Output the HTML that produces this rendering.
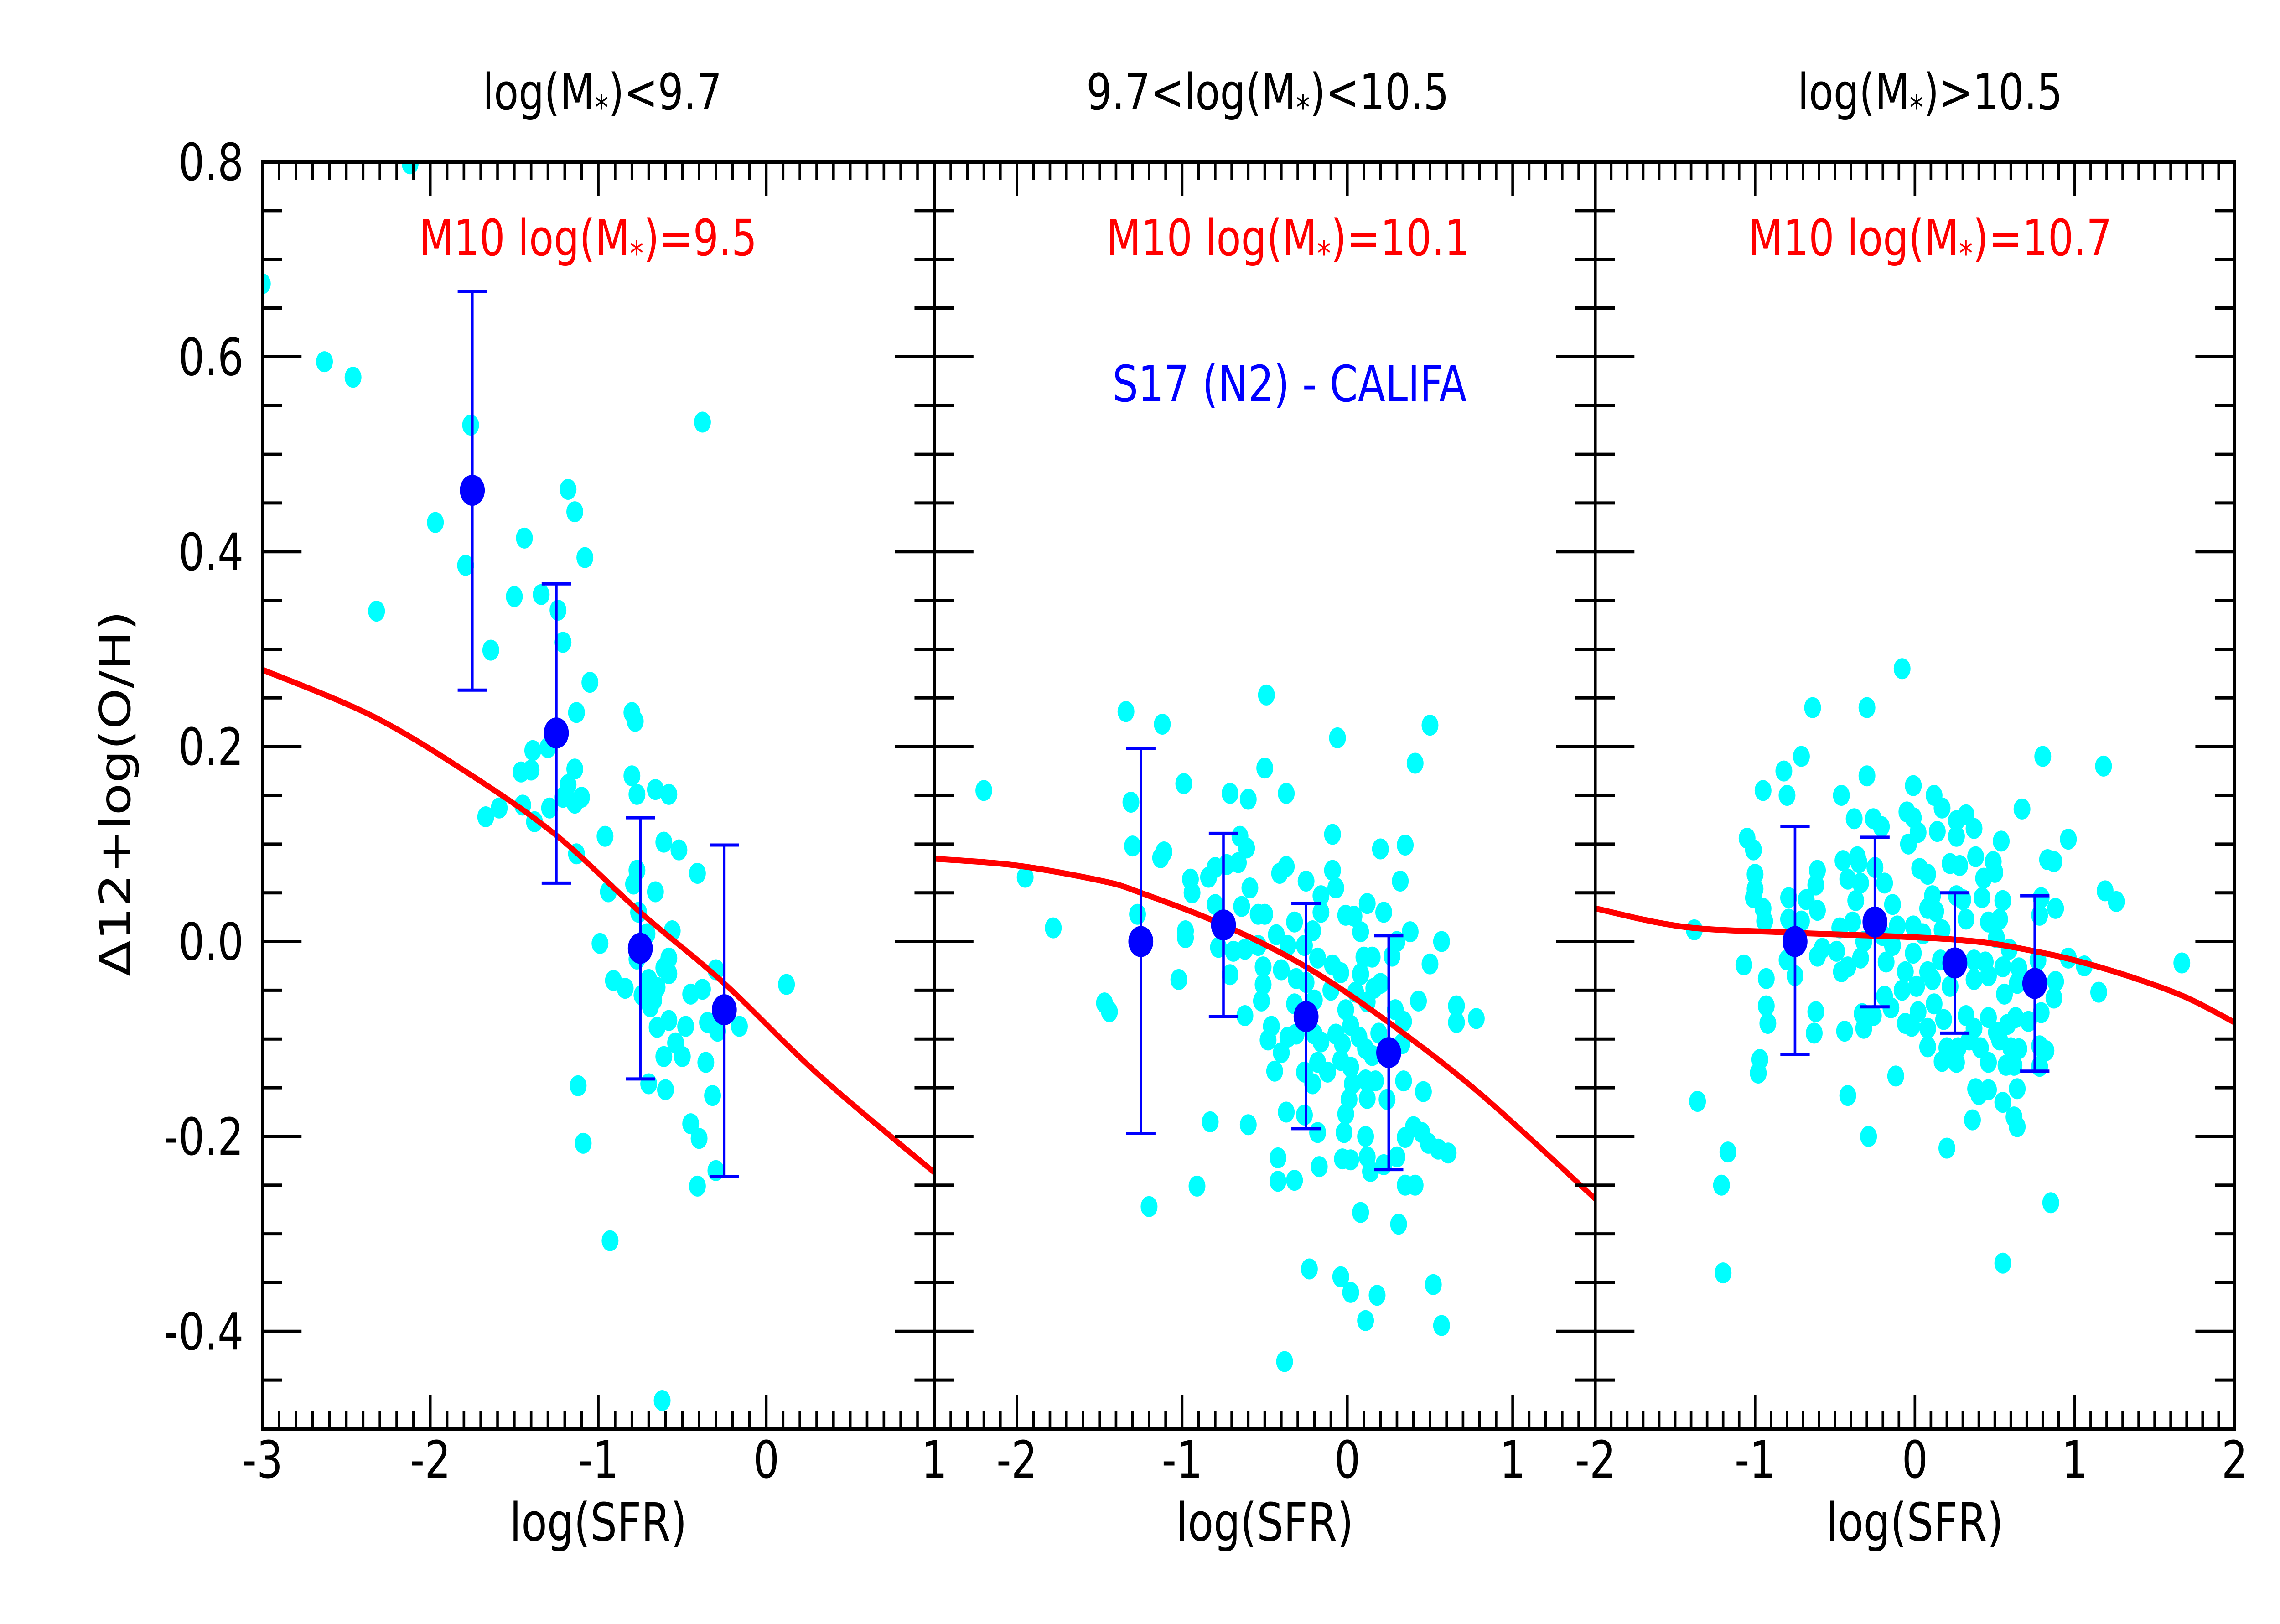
<!DOCTYPE html>
<html><head><meta charset="utf-8"><style>
html,body{margin:0;padding:0;background:#fff;width:100%;height:100%;overflow:hidden;}
svg{display:block;width:100vw;height:100vh;}
text{font-family:"DejaVu Sans","Liberation Sans",sans-serif;}
</style></head><body>
<svg id="chart" xmlns="http://www.w3.org/2000/svg" viewBox="0 0 6223 3561" preserveAspectRatio="none">
<rect x="0" y="0" width="6223" height="3561" fill="#fff"/>
<g id="marks"></g>
<g id="axes"></g>
<g id="labels">
<text x="1644" y="240" font-size="110" text-anchor="middle">log(M<tspan font-size="75" dy="22">*</tspan><tspan dy="-22">)&lt;9.7</tspan></text>
<text x="3460" y="240" font-size="110" text-anchor="middle">9.7&lt;log(M<tspan font-size="75" dy="22">*</tspan><tspan dy="-22">)&lt;10.5</tspan></text>
<text x="5268" y="240" font-size="110" text-anchor="middle">log(M<tspan font-size="75" dy="22">*</tspan><tspan dy="-22">)&gt;10.5</tspan></text>
<text x="1605" y="560" font-size="110" fill="#ff0000" text-anchor="middle">M10 log(M<tspan font-size="75" dy="22">*</tspan><tspan dy="-22">)=9.5</tspan></text>
<text x="3516" y="560" font-size="110" fill="#ff0000" text-anchor="middle">M10 log(M<tspan font-size="75" dy="22">*</tspan><tspan dy="-22">)=10.1</tspan></text>
<text x="5268" y="560" font-size="110" fill="#ff0000" text-anchor="middle">M10 log(M<tspan font-size="75" dy="22">*</tspan><tspan dy="-22">)=10.7</tspan></text>
<text x="3520" y="880" font-size="110" fill="#0000ff" text-anchor="middle">S17 (N2) - CALIFA</text>
<text x="0" y="0" font-size="115" text-anchor="middle" transform="translate(355,1740) rotate(-90)">Δ12+log(O/H)</text>
<text x="1633" y="3378" font-size="115" text-anchor="middle">log(SFR)</text>
<text x="3452" y="3378" font-size="115" text-anchor="middle">log(SFR)</text>
<text x="5226" y="3378" font-size="115" text-anchor="middle">log(SFR)</text>
</g>
</svg>
<script>
// ---------- data ----------
const yTickValues = [0.8, 0.6, 0.4, 0.2, 0.0, -0.2, -0.4];
const yTickLabels = ["0.8", "0.6", "0.4", "0.2", "0.0", "-0.2", "-0.4"];
const p1XTicks = [-3, -2, -1, 0, 1];
const p1XLabels = ["-3", "-2", "-1", "0", "1"];
const p2XTicks = [-2, -1, 0, 1];
const p2XLabels = ["-2", "-1", "0", "1"];
const p3XTicks = [-2, -1, 0, 1, 2];
const p3XLabels = ["-2", "-1", "0", "1", "2"];

const p1X = [-3.0,-2.63,-2.46,-2.12,-1.76,-0.38,-2.32,-1.97,-1.79,-1.64,-1.50,-1.44,-1.34,-1.24,-1.21,-1.18,-1.14,-1.08,-1.05,-1.13,-0.80,-0.78,-1.39,-1.30,-1.46,-1.40,-1.14,-1.18,-1.21,-1.10,-1.14,-1.45,-1.29,-1.59,-1.67,-1.38,-1.13,-0.80,-0.77,-0.66,-0.58,-0.96,-0.61,-0.52,-0.41,-0.77,-0.79,-0.94,-0.66,-0.76,-0.71,-0.56,-0.99,-0.77,-0.58,-0.61,-0.58,-0.70,-0.65,-0.91,-0.84,-0.74,-0.67,-0.69,-0.45,-0.38,-0.30,-0.35,-0.29,-0.16,0.12,-0.58,-0.65,-0.48,-0.54,-0.61,-0.50,-0.36,-0.70,-0.60,-0.32,-1.12,-1.09,-0.45,-0.40,-0.30,-0.41,-0.93,-0.62];
const p1Y = [0.675,0.595,0.579,0.798,0.53,0.533,0.339,0.43,0.386,0.299,0.354,0.414,0.356,0.34,0.307,0.464,0.441,0.394,0.266,0.235,0.235,0.226,0.196,0.199,0.174,0.176,0.177,0.161,0.148,0.148,0.142,0.14,0.137,0.137,0.128,0.123,0.09,0.17,0.151,0.156,0.151,0.108,0.102,0.094,0.07,0.073,0.059,0.051,0.051,0.03,0.008,0.011,-0.002,-0.018,-0.017,-0.027,-0.033,-0.039,-0.047,-0.04,-0.048,-0.055,-0.06,-0.067,-0.054,-0.049,-0.029,-0.083,-0.092,-0.087,-0.044,-0.081,-0.088,-0.087,-0.104,-0.118,-0.118,-0.124,-0.146,-0.152,-0.158,-0.148,-0.207,-0.187,-0.202,-0.235,-0.251,-0.307,-0.471];
const p1MeanX = [-1.75, -1.25, -0.75, -0.25];
const p1MeanY = [0.463, 0.214, -0.007, -0.070];
const p1ErrHi = [0.667, 0.367, 0.127, 0.099];
const p1ErrLo = [0.258, 0.060, -0.141, -0.241];
const p1CurveX = [-3.0, -2.34, -1.75, -1.25, -0.75, -0.25, 0.32, 1.0];
const p1CurveY = [0.279, 0.231, 0.170, 0.109, 0.030, -0.043, -0.138, -0.237];

const p2X = [-2.20,-1.95,-1.78,-1.34,-1.12,-0.49,-0.06,0.50,0.41,-0.50,-0.99,-1.31,-0.71,-0.60,-0.37,-1.30,-1.11,-1.13,-0.65,-0.61,-0.66,-0.73,-0.80,-0.84,-0.95,-0.94,-1.27,-0.98,-0.98,-0.80,-0.64,-0.59,-0.54,-0.50,-0.41,-0.37,-0.25,-0.16,-0.09,-0.09,-0.07,-0.16,-0.01,0.04,0.12,0.22,0.20,0.35,0.32,0.08,0.38,0.30,0.57,0.50,0.27,0.15,0.10,0.08,0.08,-0.09,-0.04,-0.18,-0.26,-0.32,-0.21,-0.43,-0.36,-0.54,-0.62,-0.69,-0.78,-0.71,-0.51,-0.40,-0.31,-0.25,-0.51,-0.52,-1.02,-1.47,-1.44,-0.62,-0.32,-0.20,-0.10,0.05,0.12,0.16,0.20,-0.01,0.29,0.43,0.34,0.66,0.66,0.78,-0.46,-0.48,-0.36,-0.31,-0.20,-0.16,-0.07,-0.03,0.02,0.07,0.11,0.19,0.15,0.33,-0.40,-0.44,-0.26,-0.18,-0.12,-0.04,0.02,-0.21,0.03,0.11,0.17,0.34,0.46,0.12,0.24,0.01,-0.01,-0.37,-0.26,-0.83,-0.60,-0.18,-0.02,0.11,0.35,0.40,0.45,0.49,0.55,0.61,0.30,-0.42,-0.03,0.02,0.12,-0.17,0.14,0.22,-0.42,-0.32,0.35,0.41,-0.91,-1.20,0.08,0.31,-0.23,-0.04,0.02,0.18,0.52,0.11,0.57,-0.38];
const p2Y = [0.155,0.066,0.014,0.236,0.223,0.253,0.209,0.222,0.183,0.178,0.162,0.143,0.152,0.146,0.152,0.098,0.092,0.086,0.108,0.096,0.081,0.079,0.076,0.066,0.064,0.05,0.028,0.011,0.004,0.038,0.036,0.055,0.028,0.028,0.07,0.077,0.062,0.047,0.11,0.073,0.055,0.03,0.027,0.026,0.039,0.03,0.095,0.099,0.062,0.01,0.01,0.0,0.0,-0.023,-0.015,-0.016,-0.016,-0.033,-0.034,-0.024,-0.032,-0.017,-0.004,0.02,0.011,0.007,-0.004,-0.004,-0.008,-0.01,-0.006,-0.034,-0.026,-0.029,-0.038,-0.042,-0.044,-0.061,-0.039,-0.063,-0.072,-0.076,-0.064,-0.06,-0.05,-0.052,-0.062,-0.048,-0.043,-0.07,-0.07,-0.061,-0.082,-0.066,-0.083,-0.079,-0.087,-0.101,-0.098,-0.095,-0.095,-0.103,-0.095,-0.105,-0.086,-0.098,-0.11,-0.094,-0.117,-0.105,-0.114,-0.133,-0.134,-0.124,-0.134,-0.122,-0.129,-0.146,-0.146,-0.142,-0.143,-0.143,-0.154,-0.161,-0.162,-0.162,-0.177,-0.175,-0.178,-0.185,-0.188,-0.196,-0.196,-0.2,-0.201,-0.19,-0.196,-0.207,-0.213,-0.217,-0.221,-0.222,-0.223,-0.224,-0.221,-0.231,-0.236,-0.229,-0.246,-0.245,-0.25,-0.25,-0.251,-0.272,-0.278,-0.29,-0.336,-0.344,-0.36,-0.363,-0.352,-0.389,-0.394,-0.431];
const p2MeanX = [-1.25, -0.75, -0.25, 0.25];
const p2MeanY = [0.0, 0.017, -0.077, -0.114];
const p2ErrHi = [0.198, 0.111, 0.039, 0.006];
const p2ErrLo = [-0.197, -0.077, -0.192, -0.234];
const p2CurveX = [-2.5, -2.0, -1.48, -1.25, -0.75, -0.25, 0.25, 0.81, 1.5];
const p2CurveY = [0.085, 0.078, 0.062, 0.050, 0.017, -0.026, -0.083, -0.157, -0.264];

const p3X = [-0.08,-0.64,-0.30,-0.71,0.80,1.18,-0.82,-0.95,-0.80,-0.30,-0.46,-0.01,0.12,0.17,0.67,-0.38,-0.26,-0.21,-0.05,-0.01,0.02,-0.04,0.14,0.26,0.32,0.37,0.26,0.54,0.96,-1.05,-1.01,-1.00,-1.00,-1.01,-0.95,-0.94,-0.45,-0.36,-0.35,0.03,0.08,-0.25,-0.19,-0.42,-0.34,0.22,0.28,0.38,0.49,0.43,0.50,0.83,0.87,-0.61,-0.62,-0.79,-0.68,-0.61,-0.37,-0.14,0.11,0.08,0.13,0.26,0.30,0.42,0.55,0.79,0.88,0.78,1.19,1.26,-1.38,-0.79,-0.71,-0.47,-0.39,-0.32,-0.20,-0.11,-0.01,0.05,0.17,0.32,0.46,0.53,0.51,0.59,-0.61,-0.58,-0.49,-0.34,-0.18,-0.14,-0.01,-0.06,0.08,0.16,0.37,0.44,0.55,0.65,0.77,0.96,1.06,1.67,-1.07,-0.80,-0.75,-0.93,-0.46,-0.42,-0.08,0.01,0.11,0.22,0.37,0.46,0.56,0.64,0.88,0.87,1.15,-0.93,-0.92,-0.62,-0.63,-0.44,-0.32,-0.33,-0.26,-0.15,-0.19,-0.06,-0.02,0.02,0.08,0.12,0.18,0.32,0.37,0.46,0.51,0.58,0.63,0.71,0.79,0.08,0.20,0.27,0.34,0.41,0.53,0.60,0.65,0.78,0.82,0.17,0.26,0.46,0.57,0.62,0.78,-0.97,-0.98,-0.12,0.38,0.46,0.40,0.64,0.55,-1.36,-0.42,0.62,0.64,0.36,-0.29,0.20,-1.17,-1.21,0.85,-1.20,0.55];
const p3Y = [0.28,0.24,0.24,0.19,0.19,0.18,0.175,0.155,0.15,0.17,0.15,0.16,0.15,0.137,0.136,0.126,0.126,0.118,0.133,0.127,0.112,0.10,0.113,0.124,0.13,0.116,0.108,0.103,0.105,0.106,0.094,0.069,0.054,0.045,0.034,0.021,0.083,0.087,0.081,0.075,0.069,0.076,0.06,0.064,0.06,0.08,0.078,0.087,0.082,0.065,0.071,0.084,0.082,0.073,0.058,0.045,0.043,0.032,0.042,0.038,0.047,0.034,0.031,0.047,0.043,0.045,0.042,0.045,0.034,0.027,0.052,0.041,0.012,0.023,0.021,0.014,0.02,0.0,0.006,0.016,0.016,0.008,0.012,0.023,0.02,0.023,0.004,-0.008,-0.015,-0.007,-0.01,-0.017,-0.021,-0.004,-0.012,-0.031,-0.031,-0.019,-0.019,-0.021,-0.026,-0.027,-0.019,-0.017,-0.025,-0.022,-0.024,-0.019,-0.035,-0.038,-0.031,-0.026,-0.05,-0.046,-0.039,-0.046,-0.039,-0.035,-0.054,-0.043,-0.041,-0.058,-0.052,-0.066,-0.084,-0.072,-0.094,-0.092,-0.089,-0.074,-0.076,-0.068,-0.056,-0.084,-0.087,-0.072,-0.089,-0.064,-0.08,-0.076,-0.089,-0.078,-0.093,-0.085,-0.078,-0.082,-0.073,-0.108,-0.109,-0.109,-0.101,-0.109,-0.101,-0.109,-0.11,-0.107,-0.112,-0.123,-0.124,-0.124,-0.127,-0.127,-0.128,-0.121,-0.135,-0.138,-0.151,-0.152,-0.157,-0.151,-0.165,-0.164,-0.158,-0.18,-0.19,-0.183,-0.20,-0.212,-0.216,-0.25,-0.268,-0.34,-0.33];
const p3MeanX = [-0.75, -0.25, 0.25, 0.75];
const p3MeanY = [0.0, 0.020, -0.022, -0.043];
const p3ErrHi = [0.118, 0.107, 0.050, 0.047];
const p3ErrLo = [-0.116, -0.067, -0.094, -0.133];
const p3CurveX = [-2.0, -1.44, -0.75, 0.25, 0.75, 1.17, 1.65, 2.0];
const p3CurveY = [0.034, 0.015, 0.009, 0.002, -0.010, -0.027, -0.054, -0.083];

// ---------- layout ----------
const NS = "http://www.w3.org/2000/svg";
const TOP = 355, BOT = 3133, YMAX = 0.8, YMIN = -0.5;
function yS(v){ return TOP + (YMAX - v) * (BOT - TOP) / (YMAX - YMIN); }
const panels = [
  {n:1, left:716,  right:2550, xmin:-3,   xmax:1,   X:p1X, Y:p1Y, mx:p1MeanX, my:p1MeanY, hi:p1ErrHi, lo:p1ErrLo, cx:p1CurveX, cy:p1CurveY, tv:p1XTicks, tl:p1XLabels},
  {n:2, left:2550, right:4354, xmin:-2.5, xmax:1.5, X:p2X, Y:p2Y, mx:p2MeanX, my:p2MeanY, hi:p2ErrHi, lo:p2ErrLo, cx:p2CurveX, cy:p2CurveY, tv:p2XTicks, tl:p2XLabels},
  {n:3, left:4354, right:6099, xmin:-2,   xmax:2,   X:p3X, Y:p3Y, mx:p3MeanX, my:p3MeanY, hi:p3ErrHi, lo:p3ErrLo, cx:p3CurveX, cy:p3CurveY, tv:p3XTicks, tl:p3XLabels}
];
const marks = document.getElementById('marks');
const axes = document.getElementById('axes');
function mk(tag, attrs, parent){
  const e = document.createElementNS(NS, tag);
  for (const k in attrs) e.setAttribute(k, attrs[k]);
  parent.appendChild(e);
  return e;
}
function catmull(pts){
  let d = "M" + pts[0][0] + "," + pts[0][1];
  for (let i = 0; i < pts.length - 1; i++){
    const p0 = pts[i-1] || pts[i], p1 = pts[i], p2 = pts[i+1], p3 = pts[i+2] || p2;
    const c1x = p1[0] + (p2[0]-p0[0])/6, c1y = p1[1] + (p2[1]-p0[1])/6;
    const c2x = p2[0] - (p3[0]-p1[0])/6, c2y = p2[1] - (p3[1]-p1[1])/6;
    d += " C" + c1x + "," + c1y + " " + c2x + "," + c2y + " " + p2[0] + "," + p2[1];
  }
  return d;
}

panels.forEach(function(p){
  const xS = function(v){ return p.left + (v - p.xmin) * (p.right - p.left) / (p.xmax - p.xmin); };
  const clipId = 'clip' + p.n;
  const defs = mk('defs', {}, marks);
  const cp = mk('clipPath', {id: clipId}, defs);
  mk('rect', {x: p.left, y: TOP, width: p.right - p.left, height: BOT - TOP}, cp);
  const g = mk('g', {'clip-path': 'url(#' + clipId + ')'}, marks);
  
  
  for (let i = 0; i < p.X.length; i++){
    const c = mk('circle', {cx: xS(p.X[i]), cy: yS(p.Y[i]), r: 23, fill: '#00ffff'}, g);
    
    
  }
  const pts = p.cx.map(function(v, i){ return [xS(v), yS(p.cy[i])]; });
  const path = mk('path', {d: catmull(pts), fill: 'none', stroke: '#ff0000', 'stroke-width': 13}, g);
  
  
  for (let i = 0; i < p.mx.length; i++){
    const x = xS(p.mx[i]);
    const eg = mk('g', {stroke: '#0000ff', 'stroke-width': 7}, g);
    
    
    mk('line', {x1: x, x2: x, y1: yS(p.hi[i]), y2: yS(p.lo[i])}, eg);
    mk('line', {x1: x - 40, x2: x + 40, y1: yS(p.hi[i]), y2: yS(p.hi[i])}, eg);
    mk('line', {x1: x - 40, x2: x + 40, y1: yS(p.lo[i]), y2: yS(p.lo[i])}, eg);
    const m = mk('circle', {cx: x, cy: yS(p.my[i]), r: 34, fill: '#0000ff'}, g);
    
    
  }
  const fr = mk('rect', {x: p.left, y: TOP, width: p.right - p.left, height: BOT - TOP, fill: 'none', stroke: '#000', 'stroke-width': 8}, axes);
  
  
  const tg = mk('g', {stroke: '#000', 'stroke-width': 7}, axes);
  
  
  const nMinor = Math.round((p.xmax - p.xmin) * 10);
  for (let k = 0; k <= nMinor; k++){
    const v = p.xmin + k / 10;
    const major = Math.abs(v - Math.round(v)) < 1e-6;
    const L = major ? 75 : 40;
    const x = xS(v);
    mk('line', {x1: x, x2: x, y1: BOT, y2: BOT - L}, tg);
    mk('line', {x1: x, x2: x, y1: TOP, y2: TOP + L}, tg);
  }
  for (let k = 0; k <= 26; k++){
    const v = YMIN + k * 0.05;
    const long = Math.abs(v / 0.2 - Math.round(v / 0.2)) < 1e-6;
    const L = long ? 107 : 54;
    const y = yS(v);
    mk('line', {x1: p.left, x2: p.left + L, y1: y, y2: y}, tg);
    mk('line', {x1: p.right, x2: p.right - L, y1: y, y2: y}, tg);
  }
  p.tv.forEach(function(v, i){
    const t = mk('text', {x: xS(v), y: 3240, 'font-size': 112, 'text-anchor': 'middle'}, axes);
    t.textContent = p.tl[i];
    
    
  });
});
yTickValues.forEach(function(v, i){
  const t = mk('text', {x: 665, y: yS(v) + 40, 'font-size': 112, 'text-anchor': 'end'}, axes);
  t.textContent = yTickLabels[i];
  
  
});
</script>
</body></html>
